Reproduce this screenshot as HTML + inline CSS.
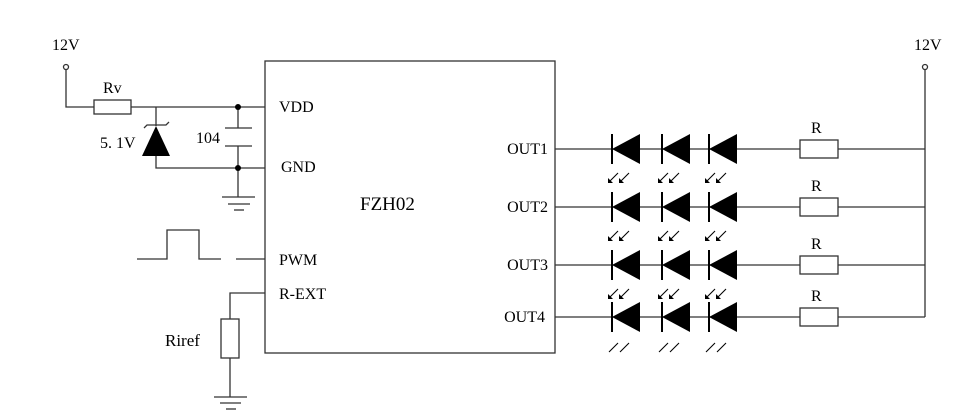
<!DOCTYPE html><html><head><style>body{margin:0;background:#fff}</style></head><body>
<svg width="979" height="415" xmlns="http://www.w3.org/2000/svg" font-family="Liberation Serif, serif" font-size="16" fill="#000">
<defs>
<g id="row">
<g stroke="#333" stroke-width="1.3" fill="none">
<line x1="555" y1="0" x2="800" y2="0"/>
<rect x="800" y="-9" width="38" height="18"/>
<line x1="838" y1="0" x2="925" y2="0"/>
<line x1="612" y1="-15" x2="612" y2="15" stroke="#000" stroke-width="2"/>
<line x1="662" y1="-15" x2="662" y2="15" stroke="#000" stroke-width="2"/>
<line x1="709" y1="-15" x2="709" y2="15" stroke="#000" stroke-width="2"/>
</g>
<polygon points="612,0 640,-15 640,15"/>
<polygon points="662,0 690,-15 690,15"/>
<polygon points="709,0 737,-15 737,15"/>
<text x="811" y="-16">R</text>
</g>
<g id="arr" stroke="#000" stroke-width="1.1">
<line x1="609" y1="182" x2="618" y2="173"/><line x1="620" y1="182" x2="629" y2="173"/>
<line x1="659" y1="182" x2="668" y2="173"/><line x1="670" y1="182" x2="679" y2="173"/>
<line x1="706" y1="182" x2="715" y2="173"/><line x1="717" y1="182" x2="726" y2="173"/>
</g>
<g id="hd" fill="#000">
<polygon points="608,183 608,178 613,183"/><polygon points="619,183 619,178 624,183"/>
<polygon points="658,183 658,178 663,183"/><polygon points="669,183 669,178 674,183"/>
<polygon points="705,183 705,178 710,183"/><polygon points="716,183 716,178 721,183"/>
</g>
</defs>
<g stroke="#333" stroke-width="1.3" fill="none">
<rect x="265" y="61" width="290" height="292"/>
<circle cx="66" cy="67" r="2.5"/>
<polyline points="66,70 66,107 94,107"/>
<rect x="94" y="100" width="37" height="14"/>
<line x1="131" y1="107" x2="265" y2="107"/>
<line x1="156" y1="107" x2="156" y2="126"/>
<polyline points="144,128 147,125 166,125 169,122"/>
<polyline points="156,156 156,168 265,168"/>
<line x1="238" y1="107" x2="238" y2="128"/>
<line x1="225" y1="128" x2="252" y2="128"/>
<line x1="225" y1="146" x2="252" y2="146"/>
<line x1="238" y1="146" x2="238" y2="197"/>
<line x1="222" y1="197" x2="255" y2="197"/>
<line x1="228" y1="204" x2="250" y2="204"/>
<line x1="234" y1="210" x2="244" y2="210"/>
<polyline points="137,259 167,259 167,230 199,230 199,259 221,259"/>
<line x1="236" y1="259" x2="265" y2="259"/>
<polyline points="265,293 230,293 230,319"/>
<rect x="221" y="319" width="18" height="39"/>
<line x1="230" y1="358" x2="230" y2="397"/>
<line x1="214" y1="397" x2="247" y2="397"/>
<line x1="220" y1="403" x2="241" y2="403"/>
<line x1="226" y1="409" x2="236" y2="409"/>
<circle cx="925" cy="67" r="2.5"/>
<line x1="925" y1="70" x2="925" y2="317"/>
</g>
<polygon points="156,126 142,156 170,156" fill="#000"/>
<circle cx="238" cy="107" r="3"/><circle cx="238" cy="168" r="3"/>
<use href="#row" y="149"/><use href="#row" y="207"/><use href="#row" y="265"/><use href="#row" y="317"/>
<use href="#arr" y="0"/><use href="#arr" y="58"/><use href="#arr" y="116"/><use href="#arr" y="170"/>
<use href="#hd" y="0"/><use href="#hd" y="58"/><use href="#hd" y="116"/>
<text x="52" y="50">12V</text>
<text x="914" y="50">12V</text>
<text x="103" y="93">Rv</text>
<text x="100" y="148">5. 1V</text>
<text x="196" y="143">104</text>
<text x="279" y="112">VDD</text>
<text x="281" y="172">GND</text>
<text x="279" y="265">PWM</text>
<text x="279" y="299">R-EXT</text>
<text x="165" y="346" font-size="17">Riref</text>
<text x="360" y="210" font-size="19">FZH02</text>
<g text-anchor="end"><text x="548" y="154">OUT1</text><text x="548" y="212">OUT2</text><text x="548" y="270">OUT3</text><text x="545" y="322">OUT4</text></g>
</svg></body></html>
